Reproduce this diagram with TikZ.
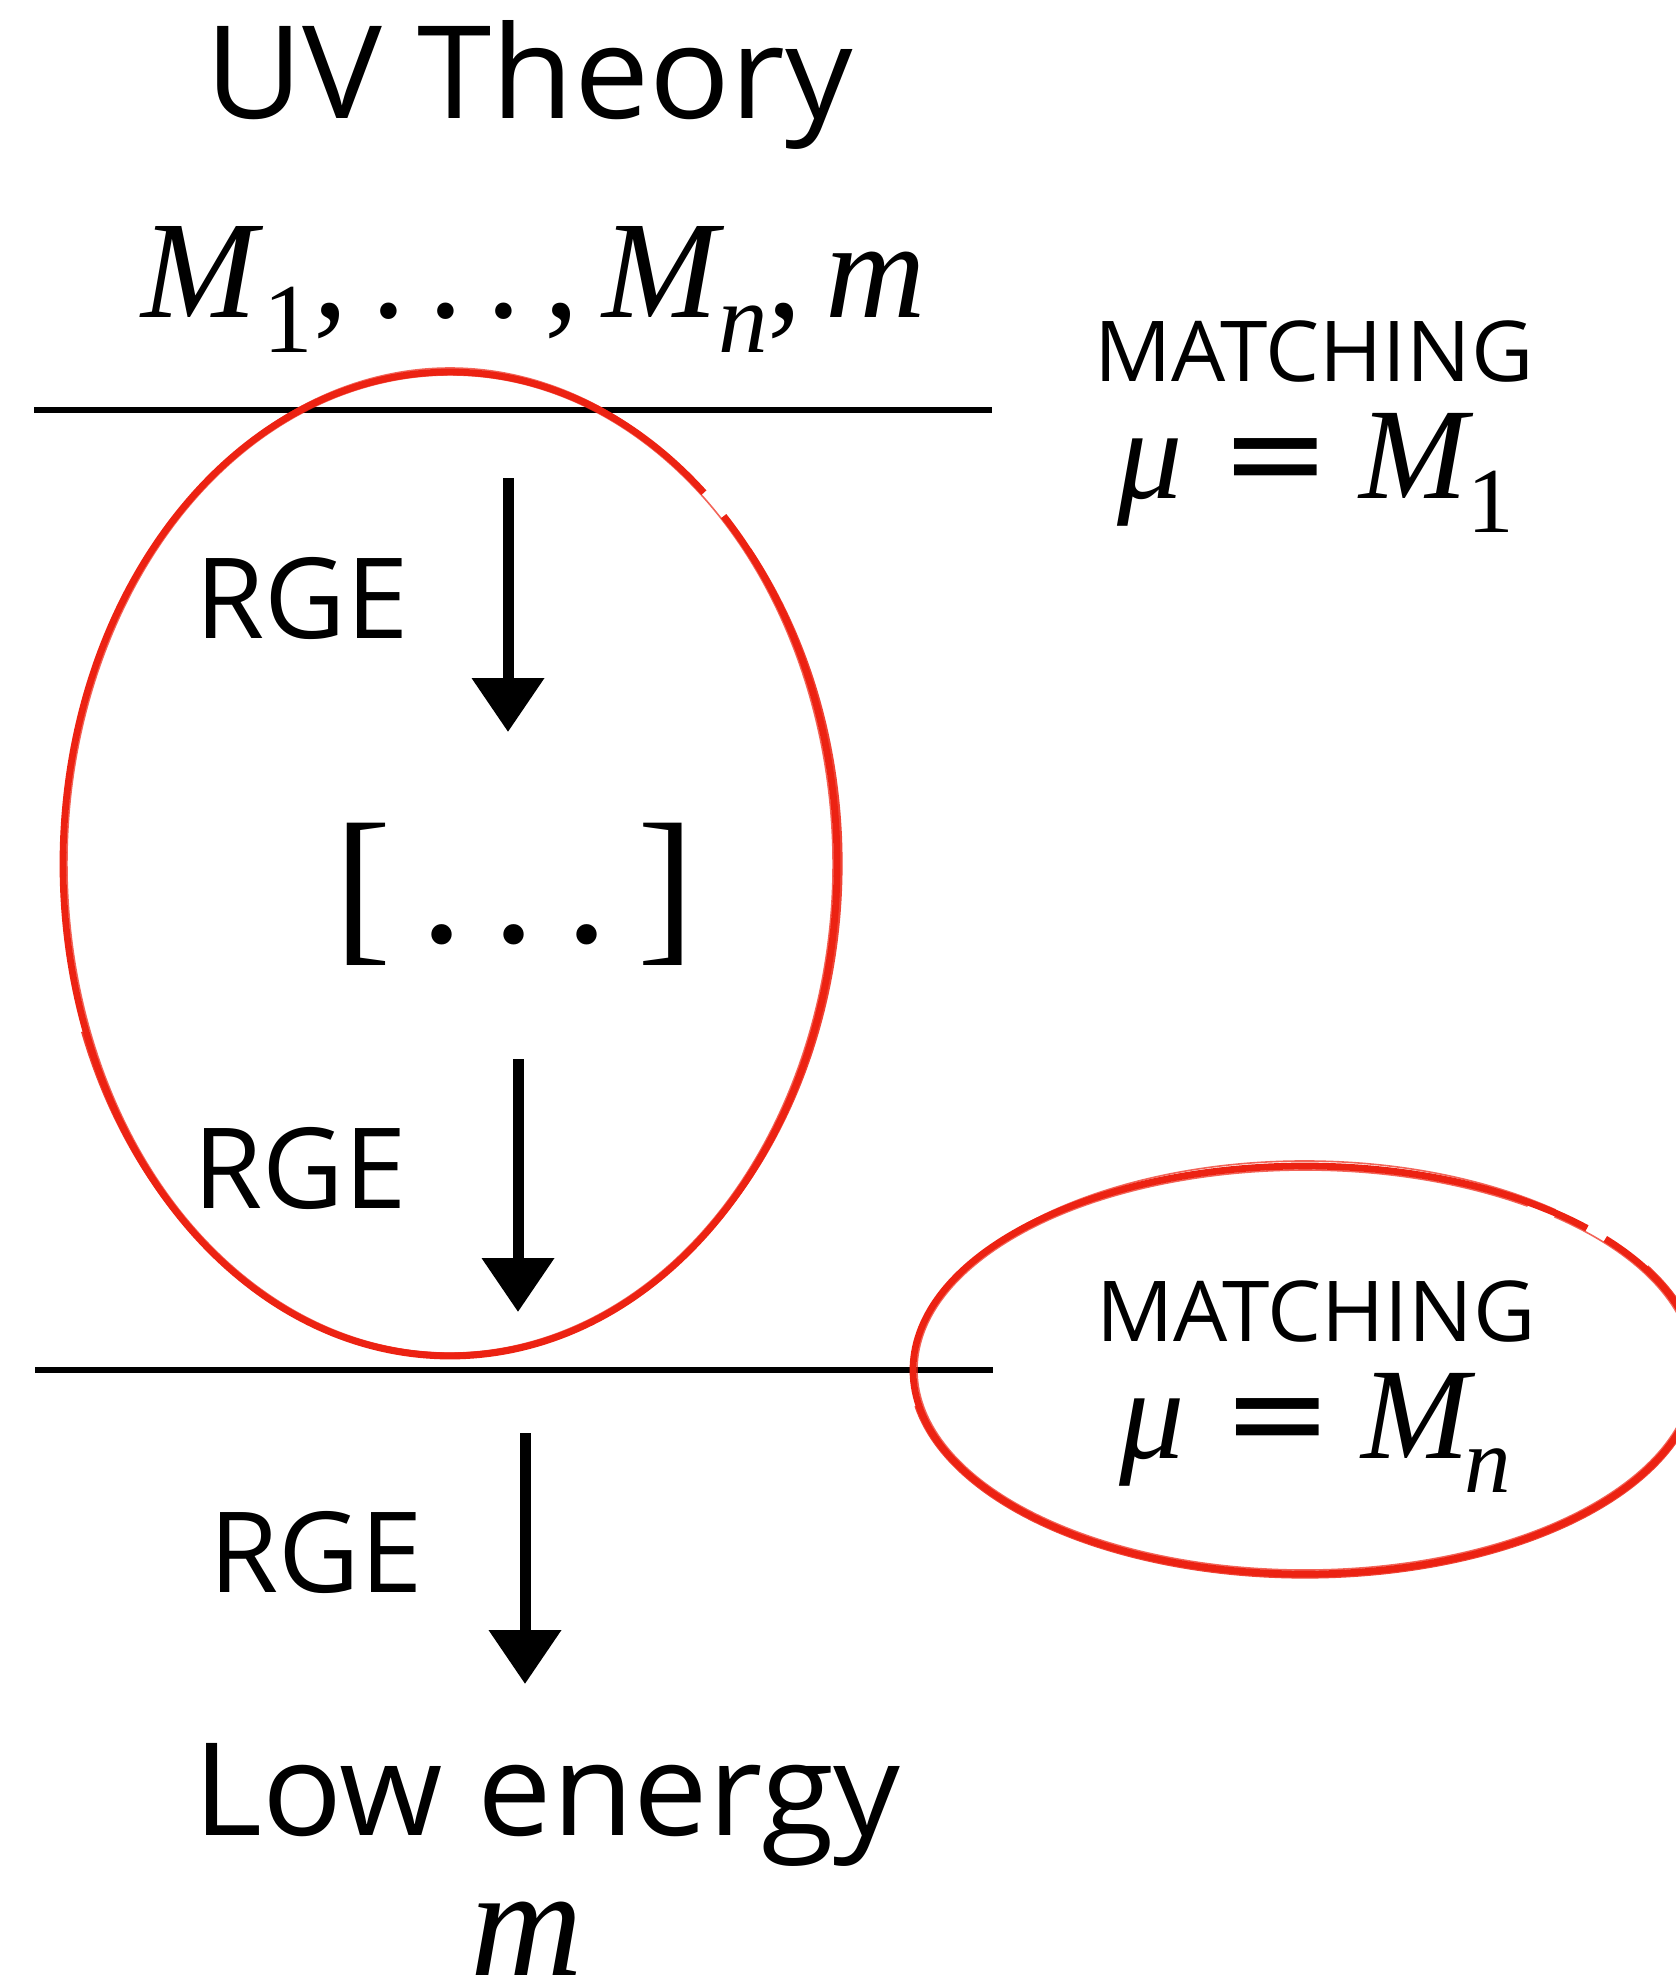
\documentclass[tikz,border=0pt]{standalone}
\usepackage{fontspec}
\usetikzlibrary{arrows.meta}
\newfontfamily\osans{Open Sans}
\newfontfamily\tms{Liberation Serif}
\newfontfamily\dvs{DejaVu Sans}
\newcommand\fsz[1]{\fontsize{#1}{#1}\selectfont}
\newcommand\lowsub[3]{\raisebox{-#1}{\fsz{#2}#3}}
\definecolor{sketchred}{HTML}{EC2212}
\tikzset{
  sanslabel/.style={inner sep=0pt, anchor=base, font=\osans},
  hline/.style={line width=2.6pt, black},
  rgearrow/.style={line width=5.5pt, black, -{Triangle[width=35pt,length=27pt]}},
  redring/.style={line width=3.4pt, sketchred},
  redmid/.style={line width=1.6pt, sketchred, opacity=0.85},
  redthin/.style={line width=0.8pt, sketchred, opacity=0.7},
}
\begin{document}
\begin{tikzpicture}[x=0.5pt, y=-0.5pt]
\useasboundingbox (0,0) rectangle (1676,1977);
\clip (0,0) rectangle (1676,1977);

% titles
\node[sanslabel, font=\osans\fsz{64.5pt}, xscale=1.04] (uv) at (529,118) {UV Theory};
\node[inner sep=0pt, anchor=base west] (params) at (141,317)
  {\tms\fsz{69.5pt}\textit{M}\lowsub{17.5pt}{49.5pt}{1},\hspace{0.167em}.\hspace{0.167em}.\hspace{0.167em}.\hspace{0.167em},\hspace{0.167em}\textit{M}\hspace{-0.05em}\lowsub{17.5pt}{49.5pt}{\textit{n}},\hspace{0.167em}\textit{m}};

% horizontal scale lines
\coordinate (l1a) at (34,410); \coordinate (l1b) at (992,410);
\coordinate (l2a) at (35,1370); \coordinate (l2b) at (993,1370);
\draw[hline] (l1a) -- (l1b);
\draw[hline] (l2a) -- (l2b);

% matching labels
\node[sanslabel, font=\osans\fsz{42pt}, xscale=1.02] (match1) at (1314,381) {MATCHING};
\node[inner sep=0pt, anchor=base west] (mu1) at (1117,498)
  {\fsz{65pt}{\tms\itshape μ}\hspace{19pt}{\dvs\fsz{66pt}=}\hspace{14pt}{\tms\itshape M}\lowsub{17pt}{46.5pt}{\tms 1}};
\node[sanslabel, font=\osans\fsz{42pt}, xscale=1.02] (match2) at (1316,1341) {MATCHING};
\node[inner sep=0pt, anchor=base west] (mun) at (1119,1458)
  {\fsz{65pt}{\tms\itshape μ}\hspace{19pt}{\dvs\fsz{66pt}=}\hspace{14pt}{\tms\itshape M}\hspace{-0.04em}\lowsub{17pt}{46.5pt}{\tms\itshape n}};

% RGE labels
\node[sanslabel, font=\osans\fsz{56pt}] (rge1) at (302,638) {RGE};
\node[sanslabel, font=\osans\fsz{56pt}] (rge2) at (300,1208) {RGE};
\node[sanslabel, font=\osans\fsz{56pt}] (rge3) at (316,1592) {RGE};

% arrows
\coordinate (a1s) at (508,478); \coordinate (a1e) at (508,732);
\coordinate (a2s) at (518,1059); \coordinate (a2e) at (518,1312);
\coordinate (a3s) at (525,1433); \coordinate (a3e) at (525,1684);
\draw[rgearrow] (a1s) -- (a1e);
\draw[rgearrow] (a2s) -- (a2e);
\draw[rgearrow] (a3s) -- (a3e);

% intermediate dots
\node[inner sep=0pt, anchor=base west] (dots) at (334,942)
  {\tms\fsz{86pt}[\hspace{0.17em}.\hspace{0.17em}.\hspace{0.17em}.\hspace{0.17em}]};

% low energy
\node[sanslabel, font=\osans\fsz{64.5pt}, xscale=1.03] (low) at (547,1835) {Low energy};
\node[inner sep=0pt, anchor=base] (mlow) at (527,1975) {\tms\fsz{78pt}\textit{m}};

% red sketched ellipses
\coordinate (e1) at (450,864);
\coordinate (e2) at (1305,1370);
\draw[redring] (e1) ++(-45:387 and 492) arc[start angle=-45, end angle=311, x radius=387, y radius=492];
\draw[redmid] (e1) ++(-40:391 and 490) arc[start angle=-40, end angle=160, x radius=391, y radius=490];
\draw[redthin] (e1) ++(-60:383 and 489) arc[start angle=-60, end angle=300, x radius=383, y radius=489];
\draw[redthin] (e1) ++(200:385 and 496) arc[start angle=200, end angle=300, x radius=385, y radius=496];
\draw[redring] (e2) ++(-40:392 and 204) arc[start angle=-40, end angle=316, x radius=392, y radius=204];
\draw[redmid] (e2) ++(-30:395 and 207) arc[start angle=-30, end angle=170, x radius=395, y radius=207];
\draw[redthin] (e2) ++(-50:388 and 200) arc[start angle=-50, end angle=305, x radius=388, y radius=200];
\draw[redthin] (e2) ++(190:390 and 209) arc[start angle=190, end angle=310, x radius=390, y radius=209];
\end{tikzpicture}
\end{document}
